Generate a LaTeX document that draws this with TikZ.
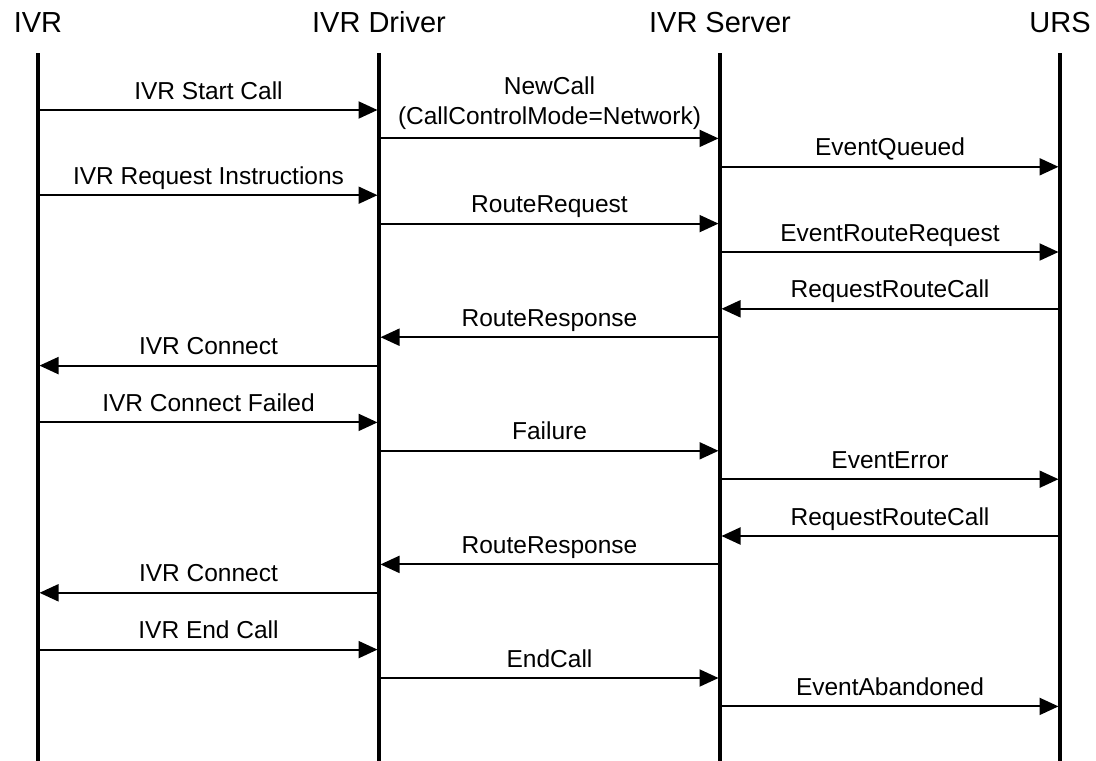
\documentclass[tikz,border=0pt]{standalone}
\usepackage{fontspec}
\setmainfont{Liberation Sans}
\usetikzlibrary{arrows.meta}

\begin{document}
\begin{tikzpicture}
  [
  x=1pt, y=-1pt,
  lifeline/.style={line width=3.5pt},
  msg/.style={draw,-{Triangle[length=19pt,width=17pt]}, line width=2pt, shorten >=1.5pt},
  msglabel/.style={anchor=base, yshift=11pt, inner sep=0pt, align=center, font=\fontsize{24.5}{30}\selectfont},
  header/.style={anchor=base, inner sep=0pt, font=\fontsize{29}{34}\selectfont}
  ]
  \useasboundingbox (0,0) rectangle (1096,761);
  % lifelines and one point per step on each
  \foreach \name/\xpos/\title in {ivr/38/IVR, drv/379/IVR Driver, srv/720/IVR Server, urs/1060/URS}{
    \node[header] (\name) at (\xpos,32) {\title};
    \coordinate (\name-top) at (\xpos,53);
    \coordinate (\name-bot) at (\xpos,761);
    \draw[lifeline] (\name-top) -- (\name-bot);
    \foreach \k in {0,...,21}
      \coordinate (\name-\k) at (\xpos,110+28.4*\k);
  }
  % messages
  \foreach \k/\from/\to/\msgtext in {
      0/ivr/drv/{IVR Start Call},
      2/srv/urs/{EventQueued},
      3/ivr/drv/{IVR Request Instructions},
      4/drv/srv/{RouteRequest},
      5/srv/urs/{EventRouteRequest},
      7/urs/srv/{RequestRouteCall},
      8/srv/drv/{RouteResponse},
      9/drv/ivr/{IVR Connect},
      11/ivr/drv/{IVR Connect Failed},
      12/drv/srv/{Failure},
      13/srv/urs/{EventError},
      15/urs/srv/{RequestRouteCall},
      16/srv/drv/{RouteResponse},
      17/drv/ivr/{IVR Connect},
      19/ivr/drv/{IVR End Call},
      20/drv/srv/{EndCall},
      21/srv/urs/{EventAbandoned}}
    \draw[msg] (\from-\k) -- node[msglabel] (m\k) {\msgtext} (\to-\k);
  \draw[msg] (drv-1) -- node[msglabel, yshift=3pt] (m1) {NewCall\\(CallControlMode=Network)} (srv-1);
\end{tikzpicture}
\end{document}
